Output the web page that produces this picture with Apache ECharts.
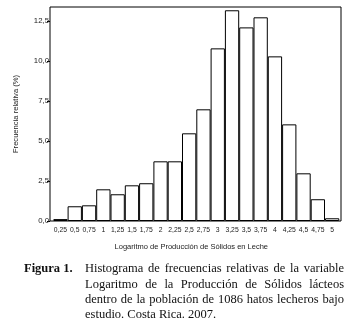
<!DOCTYPE html>
<html>
<head>
<meta charset="utf-8">
<script src="https://cdn.jsdelivr.net/npm/echarts@6/dist/echarts.min.js"></script>
<style>
  html, body { margin: 0; padding: 0; background: #fff; }
  #chart { width: 350px; height: 323px; }
</style>
</head>
<body>
<div id="chart"></div>
<script>
// clases del logaritmo (marca de clase)
const categories = ['0,25', '0,5', '0,75', '1', '1,25', '1,5', '1,75', '2', '2,25', '2,5',
  '2,75', '3', '3,25', '3,5', '3,75', '4', '4,25', '4,5', '4,75', '5'];
// frecuencia relativa (%)
const frecuencias = [0.12, 0.92, 0.98, 1.98, 1.67, 2.23, 2.36, 3.73, 3.73, 5.48,
  6.98, 10.79, 13.17, 12.1, 12.73, 10.29, 6.04, 2.98, 1.36, 0.17];
const yTicks = [0, 2.5, 5, 7.5, 10, 12.5];

const figLabel = 'Figura 1.';
const captionLines = [
  'Histograma de frecuencias relativas de la variable',
  'Logaritmo de la Producción de Sólidos lácteos',
  'dentro de la población de 1086 hatos lecheros bajo',
  'estudio. Costa Rica. 2007.'
];

const serif = '"Liberation Serif", "DejaVu Serif", serif';
const sans = '"Liberation Sans", Arial, sans-serif';

// texto justificado del pie de figura
function justifyCaption(lines, x0, x1, yStart, lineH, size) {
  const ctx = document.createElement('canvas').getContext('2d');
  ctx.font = size + 'px ' + serif;
  const out = [];
  lines.forEach((line, i) => {
    const words = line.split(' ');
    const y = yStart + i * lineH;
    const last = i === lines.length - 1;
    const wordsW = words.reduce((s, w) => s + ctx.measureText(w).width, 0);
    const gap = last ? ctx.measureText(' ').width : (x1 - x0 - wordsW) / (words.length - 1);
    let x = x0;
    words.forEach(w => {
      out.push({
        type: 'text', x: x, y: y,
        style: { text: w, font: size + 'px ' + serif, fill: '#111', textVerticalAlign: 'middle' }
      });
      x += ctx.measureText(w).width + gap;
    });
  });
  return out;
}

class Histograma {
  constructor() {
    this.chartDom = document.getElementById('chart');
    this.mChart = echarts.init(this.chartDom, null, { renderer: 'canvas' });
  }

  setOption() {
    const graphics = justifyCaption(captionLines, 85, 344, 269, 15.3, 12.5);
    graphics.push({
      type: 'text', x: 24, y: 269,
      style: { text: figLabel, font: 'bold 12.5px ' + serif, fill: '#111', textVerticalAlign: 'middle' }
    });

    this.option = {
      animation: false,
      backgroundColor: '#fff',
      grid: [
        { left: 50, right: 9, top: 7, bottom: 102, show: true, borderColor: '#000', borderWidth: 1, backgroundColor: 'transparent' },
        { left: 53.3, right: 10.7, top: 7, bottom: 102 }
      ],
      xAxis: [
        { gridIndex: 0, type: 'value', show: false, min: 0, max: 1 },
        {
          gridIndex: 1,
          type: 'category',
          data: categories,
          boundaryGap: true,
          axisLine: { show: false },
          axisTick: { show: false },
          axisLabel: { interval: 0, fontSize: 6.8, fontFamily: sans, color: '#222', margin: 6 },
          name: 'Logaritmo de Producción de Sólidos en Leche',
          nameLocation: 'middle',
          nameGap: 22,
          nameTextStyle: { fontSize: 7.5, fontFamily: sans, color: '#222', padding: [0, 10, 0, 0] }
        }
      ],
      yAxis: [
        { gridIndex: 0, type: 'value', show: false, min: 0, max: 1 },
        {
          gridIndex: 1,
          type: 'value',
          min: 0,
          max: 13.375,
          interval: 2.5,
          offset: 3.3,
          splitLine: { show: false },
          axisLine: { show: false },
          axisTick: { show: true, length: 3, lineStyle: { color: '#000' }, customValues: yTicks },
          axisLabel: {
            fontSize: 7.8, fontFamily: sans, color: '#222', margin: 1,
            customValues: yTicks,
            formatter: v => v.toFixed(1).replace('.', ',')
          },
          name: 'Frecuencia relativa (%)',
          nameLocation: 'middle',
          nameGap: 30,
          nameRotate: 90,
          nameTextStyle: { fontSize: 7.6, fontFamily: sans, color: '#222' }
        }
      ],
      series: [{
        type: 'bar',
        xAxisIndex: 1,
        yAxisIndex: 1,
        data: frecuencias,
        barWidth: '100%',
        barCategoryGap: '0%',
        itemStyle: { color: '#fff', borderColor: '#000', borderWidth: 1 }
      }],
      graphic: graphics
    };
  }

  run() {
    this.setOption();
    this.option && this.mChart.setOption(this.option);
  }
}

new Histograma().run();
</script>
</body>
</html>
